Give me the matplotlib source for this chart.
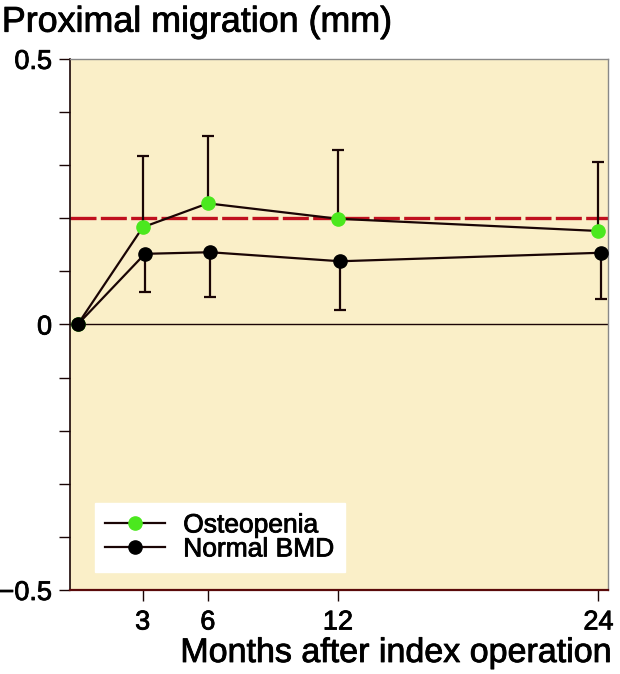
"""Proximal migration over time: osteopenia vs normal BMD."""
import matplotlib.patheffects as pe
import matplotlib.pyplot as plt
import numpy as np

plt.rcParams["font.family"] = ["Liberation Sans", "DejaVu Sans"]

# ------------------ DATA ------------------ #
MONTHS = [0, 3, 6, 12, 24]
OSTEO_MEAN = [0.0, 0.183, 0.228, 0.199, 0.176]
OSTEO_UPPER = [0.0, 0.134, 0.127, 0.130, 0.130]  # one-sided error, up
NORMAL_MEAN = [0.0, 0.133, 0.136, 0.119, 0.135]
NORMAL_LOWER = [0.0, 0.071, 0.085, 0.091, 0.087]  # one-sided error, down
THRESHOLD = 0.2
XTICKS = [3, 6, 12, 24]
YTICKS = [-0.5, 0, 0.5]
YTICK_LABELS = ["\u22120.5", "0", "0.5"]
# ---------------- END DATA ---------------- #

BG = "#faefc8"
LINE = "#1a0505"
GREEN = "#4be81e"
HEAVY = [pe.withStroke(linewidth=0.6, foreground="black")]

fig = plt.figure(figsize=(6.2, 6.74), dpi=100)
ax = fig.add_axes([0.113, 0.1246, 0.868, 0.788])
ax.set_facecolor(BG)

# threshold and zero lines
ax.axhline(THRESHOLD, color="#c0101e", lw=2.4, dashes=(7.8, 1.3), zorder=1)
ax.axhline(0, color=LINE, lw=1.0, zorder=1)

x = np.array(MONTHS, dtype=float)

# error bars (one sided), skip baseline point
ax.errorbar(x[1:], OSTEO_MEAN[1:], yerr=[np.zeros(4), OSTEO_UPPER[1:]],
            fmt="none", ecolor=LINE, elinewidth=1.6, capsize=4.5, capthick=1.6,
            zorder=2)
ax.errorbar(x[1:] + 0.1, NORMAL_MEAN[1:], yerr=[NORMAL_LOWER[1:], np.zeros(4)],
            fmt="none", ecolor=LINE, elinewidth=1.6, capsize=4.5, capthick=1.6,
            zorder=2)

ax.plot(x, OSTEO_MEAN, color=LINE, lw=1.6, marker="o", ms=9.5,
        mfc=GREEN, mec=GREEN, label="Osteopenia", zorder=3)
ax.plot(np.r_[0, x[1:] + 0.1], NORMAL_MEAN, color=LINE, lw=1.6, marker="o",
        ms=9.5, mfc="black", mec="black", label="Normal BMD", zorder=4)

ax.set_xlim(-0.35, 24.45)
ax.set_ylim(-0.5, 0.5)

ax.set_xticks(XTICKS)
ax.set_xticklabels([str(t) for t in XTICKS])
ax.set_yticks(YTICKS)
ax.set_yticklabels(YTICK_LABELS)
ax.set_yticks(np.arange(-0.4, 0.45, 0.1), minor=True)
ax.tick_params(axis="both", which="both", direction="out", length=8,
               width=1.0, color=LINE, labelsize=19.5)
ax.tick_params(axis="y", which="minor", length=8)
ax.tick_params(axis="x", pad=6)
ax.tick_params(axis="y", pad=5)
for lbl in ax.get_xticklabels() + ax.get_yticklabels():
    lbl.set_path_effects(HEAVY)

for side in ["top", "right"]:
    ax.spines[side].set_color("#888888")
    ax.spines[side].set_linewidth(1.0)
ax.spines["left"].set_color(LINE)
ax.spines["left"].set_linewidth(1.2)
ax.spines["bottom"].set_color("#5a0a0a")
ax.spines["bottom"].set_linewidth(1.6)

leg = ax.legend(loc="lower left", bbox_to_anchor=(0.046, 0.034), frameon=True,
                fontsize=19, handlelength=2.25, borderpad=0.4,
                labelspacing=0.0, handletextpad=0.7, borderaxespad=0,
                fancybox=False)
leg.get_frame().set_facecolor("white")
leg.get_frame().set_edgecolor("white")
leg.get_frame().set_alpha(1.0)
for t in leg.get_texts():
    t.set_path_effects(HEAVY)

fig.text(0.003, 0.993, "Proximal migration (mm)", fontsize=25.8,
         ha="left", va="top", path_effects=HEAVY)
fig.text(0.987, 1 - 662 / 674, "Months after index operation", fontsize=24.5,
         ha="right", va="baseline", path_effects=HEAVY)

plt.savefig("out.png", dpi=100)
